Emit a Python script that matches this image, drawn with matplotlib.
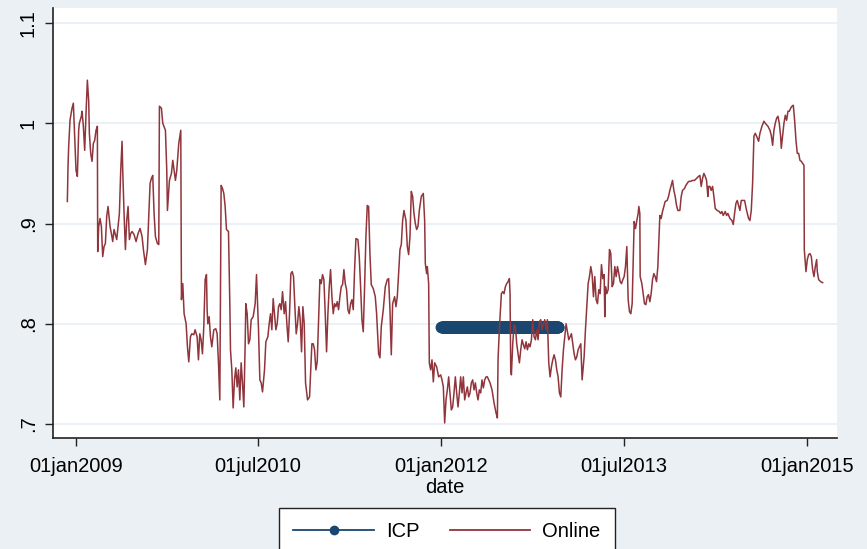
import numpy as np
import pandas as pd
import matplotlib
matplotlib.use("Agg")
import matplotlib.pyplot as plt
from matplotlib.lines import Line2D

# Online price index: (days since 01jan2009, index value)
online_2009 = [(-26,0.922),(-24,0.957),(-22,0.977),(-18,1.003),(-12,1.015),(-8,1.020),(-4,0.987),(0,0.953),(4,0.947),(8,0.993),(10,1.000),(16,1.007),(18,1.012),(22,0.997),(26,0.973),(30,1.010),(34,1.043),(38,1.022),(40,0.990),(44,0.970),(48,0.962),(52,0.980),(56,0.983),(60,0.993),(64,0.997),(65,0.872),(68,0.897),(72,0.905),(76,0.897),(80,0.867),(84,0.877),(88,0.880),(92,0.907),(96,0.917),(102,0.897),(106,0.890),(110,0.882),(114,0.894),(118,0.889),(122,0.884),(126,0.897),(130,0.910),(134,0.953),(138,0.982),(140,0.953),(144,0.910),(148,0.874),(152,0.903),(156,0.917),(160,0.884),(164,0.890),(168,0.892),(174,0.889),(180,0.882),(186,0.890),(192,0.895),(198,0.887),(202,0.874),(208,0.859),(214,0.874),(218,0.907),(222,0.940),(226,0.945),(230,0.948),(234,0.910),(238,0.887),(244,0.880),(248,0.879),(250,1.017),(256,1.015),(260,1.000),(268,0.993),(272,0.953),(274,0.913),(280,0.943),(286,0.950),(290,0.963),(294,0.953),(298,0.943),(302,0.953),(308,0.980),(314,0.993),(316,0.824),(320,0.840),(324,0.810),(330,0.800),(334,0.777),(338,0.762)]

online_2010 = [(343,0.787),(347,0.790),(353,0.789),(357,0.794),(363,0.787),(367,0.764),(371,0.790),(375,0.784),(379,0.770),(383,0.797),(387,0.844),(391,0.849),(393,0.814),(395,0.800),(399,0.807),(403,0.787),(407,0.777),(413,0.794),(419,0.795),(423,0.790),(427,0.761),(431,0.724),(435,0.938),(439,0.935),(443,0.930),(447,0.917),(451,0.894),(457,0.892),(461,0.820),(463,0.774),(467,0.754),(471,0.716),(475,0.744),(479,0.756),(483,0.737),(487,0.754),(491,0.724),(495,0.761),(499,0.741),(503,0.717),(507,0.780),(509,0.820),(513,0.810),(517,0.780),(521,0.784),(525,0.804),(531,0.807),(537,0.820),(541,0.849),(543,0.830),(547,0.794),(551,0.744),(555,0.741),(559,0.732),(565,0.754),(569,0.782),(575,0.787),(579,0.800),(583,0.810),(587,0.794),(591,0.825),(595,0.810),(599,0.794),(603,0.800),(607,0.817),(611,0.820),(615,0.814),(619,0.832),(624,0.810),(628,0.822),(632,0.800),(636,0.782),(640,0.810),(644,0.850),(648,0.852),(652,0.847),(656,0.817),(660,0.790),(664,0.800),(668,0.817),(672,0.804),(676,0.772),(680,0.817),(684,0.800),(688,0.741),(694,0.724),(700,0.727)]

online_2011 = [(707,0.780),(711,0.780),(715,0.774),(719,0.754),(723,0.762),(727,0.804),(731,0.844),(735,0.840),(739,0.849),(743,0.844),(747,0.810),(751,0.772),(755,0.810),(759,0.837),(763,0.854),(767,0.827),(771,0.810),(775,0.820),(779,0.817),(783,0.822),(787,0.814),(791,0.827),(795,0.837),(799,0.839),(803,0.854),(807,0.840),(811,0.834),(815,0.814),(819,0.810),(823,0.820),(827,0.824),(831,0.814),(835,0.854),(839,0.885),(845,0.884),(849,0.867),(853,0.837),(857,0.804),(861,0.792),(865,0.837),(869,0.887),(873,0.918),(877,0.917),(881,0.870),(885,0.839),(891,0.835),(897,0.827),(901,0.810),(907,0.770),(911,0.766),(915,0.797),(921,0.814),(927,0.837),(933,0.844),(937,0.845),(941,0.814),(945,0.769),(949,0.820),(955,0.827),(959,0.817),(963,0.827),(967,0.850),(971,0.874),(975,0.879),(979,0.903),(983,0.913),(989,0.903),(993,0.877),(997,0.869),(1001,0.887),(1005,0.932),(1009,0.927),(1013,0.910),(1017,0.900),(1021,0.894),(1025,0.897),(1029,0.913),(1035,0.927),(1041,0.930),(1045,0.903),(1047,0.860),(1051,0.850),(1053,0.857),(1057,0.840),(1059,0.761),(1063,0.754),(1067,0.764),(1071,0.742),(1075,0.761),(1081,0.757),(1087,0.747)]

online_2012 = [(1093,0.749),(1097,0.744),(1101,0.737),(1105,0.701),(1109,0.724),(1113,0.734),(1117,0.747),(1121,0.731),(1125,0.714),(1129,0.717),(1133,0.731),(1137,0.747),(1141,0.731),(1145,0.717),(1149,0.731),(1153,0.747),(1157,0.731),(1161,0.747),(1165,0.724),(1169,0.731),(1173,0.737),(1177,0.727),(1181,0.731),(1185,0.741),(1189,0.744),(1193,0.734),(1197,0.741),(1201,0.731),(1205,0.724),(1209,0.734),(1213,0.731),(1217,0.744),(1221,0.736),(1225,0.744),(1229,0.747),(1233,0.747),(1237,0.744),(1241,0.741),(1247,0.734),(1253,0.721),(1259,0.711),(1263,0.706),(1265,0.764),(1267,0.780),(1271,0.807),(1275,0.830),(1279,0.832),(1283,0.830),(1287,0.837),(1291,0.840),(1295,0.842),(1299,0.845),(1301,0.830),(1303,0.754),(1305,0.749),(1309,0.780),(1313,0.799),(1317,0.797),(1321,0.780),(1325,0.770),(1329,0.761),(1333,0.774),(1337,0.784),(1341,0.779),(1345,0.775),(1349,0.782),(1353,0.774),(1357,0.780),(1361,0.777),(1365,0.784),(1369,0.804),(1373,0.787),(1377,0.784),(1381,0.794),(1385,0.784),(1389,0.802),(1393,0.804),(1397,0.794),(1401,0.800),(1405,0.804),(1409,0.794),(1413,0.804),(1417,0.761),(1421,0.747),(1425,0.757),(1429,0.764),(1433,0.769),(1437,0.764),(1441,0.754),(1445,0.747),(1449,0.731),(1453,0.727),(1457,0.754),(1461,0.774),(1465,0.787),(1469,0.800),(1473,0.792),(1477,0.784),(1481,0.787),(1485,0.790),(1489,0.780),(1493,0.770),(1497,0.764),(1501,0.767),(1505,0.774),(1509,0.777),(1513,0.780),(1517,0.744)]

online_2013 = [(1523,0.767),(1527,0.794),(1531,0.817),(1535,0.840),(1539,0.847),(1543,0.857),(1547,0.849),(1551,0.827),(1555,0.847),(1559,0.824),(1563,0.820),(1567,0.834),(1571,0.830),(1575,0.859),(1579,0.845),(1583,0.849),(1585,0.807),(1587,0.837),(1591,0.830),(1595,0.834),(1599,0.874),(1603,0.870),(1607,0.837),(1611,0.840),(1615,0.857),(1619,0.847),(1623,0.857),(1627,0.850),(1631,0.842),(1635,0.840),(1639,0.844),(1643,0.847),(1647,0.857),(1651,0.877),(1655,0.824),(1659,0.812),(1663,0.810),(1667,0.820),(1671,0.874),(1673,0.902),(1677,0.895),(1681,0.903),(1685,0.910),(1687,0.917),(1690,0.910),(1691,0.847),(1696,0.840),(1700,0.830),(1704,0.820),(1708,0.819),(1712,0.827),(1716,0.829),(1720,0.822),(1724,0.830),(1728,0.844),(1732,0.850),(1736,0.847),(1740,0.842),(1744,0.857),(1748,0.890),(1750,0.908),(1754,0.905),(1758,0.912),(1762,0.917),(1766,0.922),(1772,0.923),(1776,0.927),(1780,0.933),(1784,0.938),(1788,0.943),(1792,0.933),(1796,0.927),(1800,0.918),(1804,0.913),(1810,0.913),(1814,0.927),(1818,0.933),(1824,0.935),(1828,0.938),(1832,0.940),(1836,0.942),(1842,0.942),(1848,0.943),(1854,0.943),(1860,0.945),(1866,0.947),(1870,0.948)]

online_2014 = [(1874,0.937),(1878,0.945),(1882,0.950),(1886,0.947),(1890,0.943),(1894,0.927),(1896,0.937),(1900,0.937),(1904,0.933),(1908,0.937),(1912,0.927),(1916,0.915),(1922,0.913),(1928,0.912),(1932,0.910),(1936,0.912),(1940,0.908),(1946,0.912),(1950,0.908),(1954,0.910),(1960,0.905),(1966,0.903),(1970,0.899),(1974,0.910),(1978,0.920),(1982,0.923),(1986,0.918),(1990,0.913),(1994,0.923),(1998,0.923),(2004,0.923),(2010,0.913),(2016,0.905),(2020,0.903),(2024,0.913),(2028,0.940),(2032,0.987),(2036,0.990),(2040,0.987),(2046,0.982),(2050,0.990),(2056,0.997),(2062,1.002),(2066,1.000),(2074,0.997),(2080,0.993),(2084,0.988),(2088,0.978),(2092,0.993),(2096,1.000),(2100,1.005),(2104,1.007),(2108,1.000),(2112,0.987),(2114,0.975),(2118,0.987),(2122,1.000),(2126,1.008),(2130,1.003),(2134,1.012),(2138,1.012),(2142,1.015),(2146,1.017),(2150,1.018),(2154,1.003),(2158,0.983),(2162,0.970),(2166,0.970),(2170,0.963),(2174,0.962),(2178,0.960),(2182,0.958),(2183,0.874),(2186,0.860),(2188,0.852),(2192,0.864),(2196,0.869),(2200,0.870),(2204,0.867),(2208,0.854),(2212,0.847),(2216,0.857),(2220,0.864),(2222,0.852),(2226,0.844),(2232,0.842),(2238,0.841)]

# ICP benchmark: one level over 2012
icp_start = "2012-01-01"
icp_end = "2012-12-17"
icp_level = 0.797

# Axis ticks
x_ticks = ["2009-01-01", "2010-07-01", "2012-01-01", "2013-07-01", "2015-01-01"]
x_ticklabels = ["01jan2009", "01jul2010", "01jan2012", "01jul2013", "01jan2015"]
y_ticks = [0.7, 0.8, 0.9, 1.0, 1.1]
y_ticklabels = [".7", ".8", ".9", "1", "1.1"]

base = pd.Timestamp("2009-01-01")
online = online_2009 + online_2010 + online_2011 + online_2012 + online_2013 + online_2014
online_dates = base + pd.to_timedelta([d for d, _ in online], unit="D")
online_vals = np.array([v for _, v in online])

icp_dates = pd.date_range(icp_start, icp_end, freq="D")
icp_vals = np.full(len(icp_dates), icp_level)

BG = "#ebf0f5"
GRID = "#ebf1f6"
NAVY = "#1a476f"
MAROON = "#90353b"

plt.rcParams["font.family"] = ["Liberation Sans", "DejaVu Sans"]

fig = plt.figure(figsize=(8.67, 5.49), dpi=100, facecolor=BG)
ax = fig.add_axes([53/867, 1-438/549, (837-53)/867, (438-8)/549])
ax.set_facecolor("white")

for y in y_ticks:
    ax.axhline(y, color=GRID, lw=1.4, zorder=0)

ax.plot(icp_dates, icp_vals, color=NAVY, lw=1.3, marker="o", ms=7.5,
        mec=NAVY, mfc=NAVY, zorder=2)
ax.plot(online_dates, online_vals, color=MAROON, lw=1.1, zorder=3)

ax.set_xlim(pd.Timestamp("2008-10-24"), pd.Timestamp("2015-04-01"))
ax.set_ylim(0.686, 1.115)

ax.set_xticks(pd.to_datetime(x_ticks))
ax.set_xticklabels(x_ticklabels, fontsize=14.5)
ax.set_yticks(y_ticks)
ax.set_yticklabels(y_ticklabels, fontsize=14.5, rotation=90, va="center")
ax.tick_params(axis="x", length=6, width=1.0, color="#222222", pad=8)
ax.tick_params(axis="y", length=6, width=1.0, color="#222222", pad=5)
ax.set_xlabel("date", fontsize=14.5, labelpad=1)

for s in ("top", "right"):
    ax.spines[s].set_visible(False)
for s in ("left", "bottom"):
    ax.spines[s].set_color("#222222")
    ax.spines[s].set_linewidth(1.2)

handles = [
    Line2D([], [], color=NAVY, lw=1.3, marker="o", ms=6),
    Line2D([], [], color=MAROON, lw=1.3),
]
leg = fig.legend(handles, ["ICP", "Online"], loc="upper center",
                 bbox_to_anchor=(447/867, 1-508/549), ncol=2, fontsize=14.5,
                 frameon=True, fancybox=False, edgecolor="#222222",
                 facecolor="white", framealpha=1, handlelength=4.0,
                 columnspacing=1.5, handletextpad=0.6, borderpad=0.7,
                 borderaxespad=0)
leg.get_frame().set_linewidth(1.0)

fig.savefig("out.png", dpi=100, facecolor=BG)
